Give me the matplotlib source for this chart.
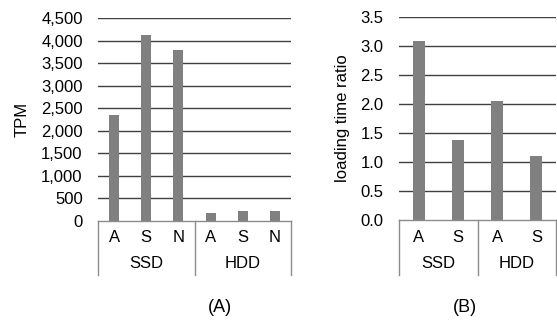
import matplotlib
matplotlib.use("Agg")
import matplotlib.pyplot as plt
from matplotlib.ticker import FuncFormatter

plt.rcParams['font.family'] = ['Liberation Sans', 'DejaVu Sans']

# Panel A data
a_groups = ["SSD", "HDD"]
a_cats = ["A", "S", "N"]
a_tpm = [2350, 4120, 3790, 170, 230, 230]
a_ticks = [0, 500, 1000, 1500, 2000, 2500, 3000, 3500, 4000, 4500]

# Panel B data
b_groups = ["SSD", "HDD"]
b_cats = ["A", "S"]
b_ratio = [3.09, 1.38, 2.06, 1.11]
b_ticks = [0.0, 0.5, 1.0, 1.5, 2.0, 2.5, 3.0, 3.5]

W, H = 557, 329
fig = plt.figure(figsize=(W / 100, H / 100), dpi=100)

BAR = "#808080"
GRID = "#404040"
SEP = "#8c8c8c"
FS = 12


def panel(rect_px, groups, cats, values, ticks, fmt, ylabel, bar_w, ylabel_x_px):
    l, r, top, bot = rect_px
    ax = fig.add_axes([l / W, 1 - bot / H, (r - l) / W, (bot - top) / H])
    n = len(groups) * len(cats)
    x = list(range(n))
    ax.bar(x, values, width=bar_w, color=BAR, zorder=3)
    ax.set_xlim(-0.5, n - 0.5)
    ax.set_ylim(ticks[0], ticks[-1])
    ax.set_yticks(ticks)
    ax.yaxis.set_major_formatter(FuncFormatter(fmt))
    ax.tick_params(axis='y', length=0, pad=11, labelsize=FS, colors='black')
    ax.set_xticks([])
    for t in ticks[1:]:
        ax.axhline(t, color=GRID, lw=1.0, zorder=1)
    for s in ax.spines.values():
        s.set_visible(False)
    ax.axhline(ticks[0], color=SEP, lw=1.0, zorder=4, clip_on=False)
    hpx = bot - top
    depth = -(275 - bot) / hpx
    tr = ax.get_xaxis_transform()
    k = len(cats)
    for g in range(len(groups) + 1):
        xs = g * k - 0.5
        ax.plot([xs, xs], [0, depth], color=SEP, lw=1.0, transform=tr, clip_on=False)
    for i in range(n):
        ax.text(i, -(238 - bot) / hpx, cats[i % k], transform=tr, ha='center', va='center', fontsize=FS)
    for g, name in enumerate(groups):
        ax.text(g * k + (k - 1) / 2, -(263 - bot) / hpx, name, transform=tr, ha='center', va='center', fontsize=FS)
    fig.text(ylabel_x_px / W, 1 - ((top + bot) / 2) / H, ylabel, rotation=90, ha='center', va='center', fontsize=FS)
    return ax


panel((98, 291, 18, 221), a_groups, a_cats, a_tpm, a_ticks,
      lambda v, p: f"{v:,.0f}", "TPM", 0.31, 22)
panel((399, 556, 17, 220), b_groups, b_cats, b_ratio, b_ticks,
      lambda v, p: f"{v:.1f}", "loading time ratio", 0.31, 343)

fig.text(220 / W, 1 - 308 / H, "(A)", ha='center', va='center', fontsize=13)
fig.text(465 / W, 1 - 308 / H, "(B)", ha='center', va='center', fontsize=13)

fig.savefig("out.png", dpi=100)
